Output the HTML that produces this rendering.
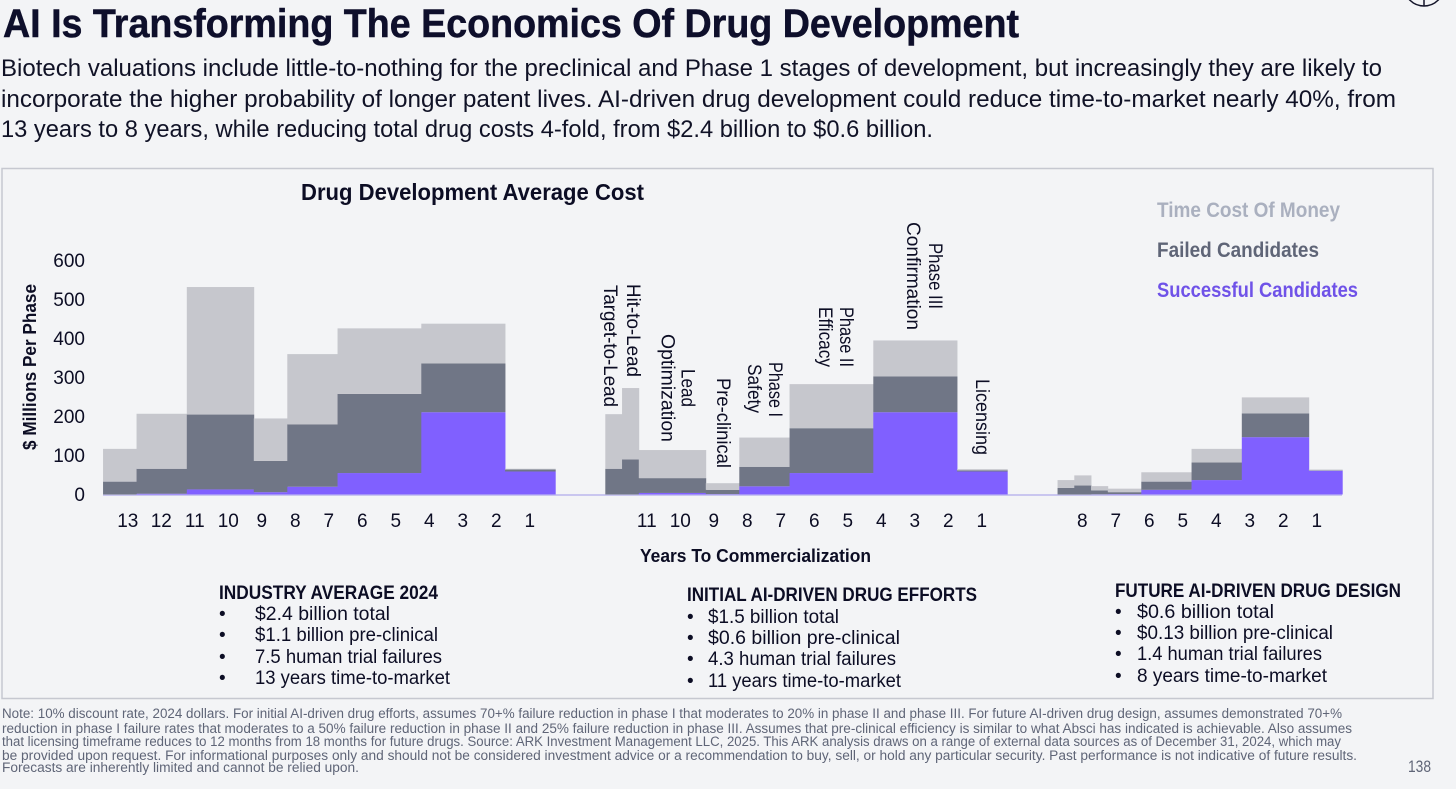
<!DOCTYPE html>
<html lang="en">
<head>
<meta charset="utf-8">
<title>AI Is Transforming The Economics Of Drug Development</title>
<style>
html,body{margin:0;padding:0;background:#f3f4f6;width:1456px;height:789px;overflow:hidden}
svg{display:block;font-family:"Liberation Sans",sans-serif}
.d{font-size:24px;fill:#101226}
.b{font-size:19px;fill:#0c0d24}
.bh{font-size:19px;font-weight:bold;fill:#0c0d24}
.n{font-size:13.5px;fill:#5f6577}
.r{font-size:19px;fill:#0c0d24}
.t{font-size:19px;fill:#0c0d24}
</style>
</head>
<body>
<svg id="s" width="1456" height="789" viewBox="0 0 1456 789" xmlns="http://www.w3.org/2000/svg">
<rect x="0" y="0" width="1456" height="789" fill="#f3f4f6"/>
<g fill="none" stroke="#14152a" stroke-width="1.5">
<circle cx="1424" cy="-14" r="20"/>
<line x1="1424" y1="0" x2="1424" y2="6"/>
</g>
<text x="3" y="37" font-size="40" font-weight="bold" fill="#0e0f2b" stroke="#0e0f2b" stroke-width="0.5" textLength="1016" lengthAdjust="spacingAndGlyphs">AI Is Transforming The Economics Of Drug Development</text>
<g>
<text class="d" x="1" y="76" textLength="1381" lengthAdjust="spacingAndGlyphs">Biotech valuations include little-to-nothing for the preclinical and Phase 1 stages of development, but increasingly they are likely to</text>
<text class="d" x="1" y="107" textLength="1395" lengthAdjust="spacingAndGlyphs">incorporate the higher probability of longer patent lives. AI-driven drug development could reduce time-to-market nearly 40%, from</text>
<text class="d" x="1" y="137" textLength="932" lengthAdjust="spacingAndGlyphs">13 years to 8 years, while reducing total drug costs 4-fold, from $2.4 billion to $0.6 billion.</text>
</g>
<rect x="2" y="168.5" width="1431" height="530" fill="#f3f4f6" stroke="#c6c8d0" stroke-width="1.5"/>
<text x="301" y="200" font-size="23" font-weight="bold" fill="#0c0d24" textLength="343" lengthAdjust="spacingAndGlyphs">Drug Development Average Cost</text>
<g font-size="21" font-weight="bold">
<text x="1157" y="217" fill="#aab0bf" textLength="183" lengthAdjust="spacingAndGlyphs">Time Cost Of Money</text>
<text x="1157" y="257" fill="#5f6577" textLength="162" lengthAdjust="spacingAndGlyphs">Failed Candidates</text>
<text x="1157" y="297" fill="#6f52e8" textLength="201" lengthAdjust="spacingAndGlyphs">Successful Candidates</text>
</g>
<text transform="translate(36,450) rotate(-90)" font-size="18" font-weight="bold" fill="#0c0d24" textLength="166" lengthAdjust="spacingAndGlyphs">$ Millions Per Phase</text>
<text x="640" y="562" font-size="18" font-weight="bold" fill="#0c0d24" textLength="231" lengthAdjust="spacingAndGlyphs">Years To Commercialization</text>
<g id="yticks"></g>
<line x1="103" y1="495" x2="1342" y2="495" stroke="#c9c6ef" stroke-width="2"/>
<g id="bars"></g>
<g id="xticks"></g>
<g>
<text class="r" transform="translate(604,285) rotate(90)" textLength="122" lengthAdjust="spacingAndGlyphs">Target-to-Lead</text>
<text class="r" transform="translate(627,284) rotate(90)" textLength="93" lengthAdjust="spacingAndGlyphs">Hit-to-Lead</text>
<text class="r" transform="translate(681.5,369) rotate(90)" textLength="38" lengthAdjust="spacingAndGlyphs">Lead</text>
<text class="r" transform="translate(661.5,334) rotate(90)" textLength="108" lengthAdjust="spacingAndGlyphs">Optimization</text>
<text class="r" transform="translate(717,378) rotate(90)" textLength="90" lengthAdjust="spacingAndGlyphs">Pre-clinical</text>
<text class="r" transform="translate(769,362) rotate(90)" textLength="55" lengthAdjust="spacingAndGlyphs">Phase I</text>
<text class="r" transform="translate(748,364) rotate(90)" textLength="49" lengthAdjust="spacingAndGlyphs">Safety</text>
<text class="r" transform="translate(840,307) rotate(90)" textLength="60" lengthAdjust="spacingAndGlyphs">Phase II</text>
<text class="r" transform="translate(819,307) rotate(90)" textLength="60" lengthAdjust="spacingAndGlyphs">Efficacy</text>
<text class="r" transform="translate(929,243) rotate(90)" textLength="66" lengthAdjust="spacingAndGlyphs">Phase III</text>
<text class="r" transform="translate(907,222) rotate(90)" textLength="108" lengthAdjust="spacingAndGlyphs">Confirmation</text>
<text class="r" transform="translate(976,379) rotate(90)" textLength="76" lengthAdjust="spacingAndGlyphs">Licensing</text>
</g>
<g>
<text class="bh" x="219" y="599" textLength="219" lengthAdjust="spacingAndGlyphs">INDUSTRY AVERAGE 2024</text>
<text class="b" x="219" y="620">•</text><text class="b" x="255" y="620" textLength="135" lengthAdjust="spacingAndGlyphs">$2.4 billion total</text>
<text class="b" x="219" y="641">•</text><text class="b" x="255" y="641" textLength="183" lengthAdjust="spacingAndGlyphs">$1.1 billion pre-clinical</text>
<text class="b" x="219" y="663">•</text><text class="b" x="255" y="663" textLength="187" lengthAdjust="spacingAndGlyphs">7.5 human trial failures</text>
<text class="b" x="219" y="684">•</text><text class="b" x="255" y="684" textLength="195" lengthAdjust="spacingAndGlyphs">13 years time-to-market</text>
</g>
<g>
<text class="bh" x="687" y="601" textLength="290" lengthAdjust="spacingAndGlyphs">INITIAL AI-DRIVEN DRUG EFFORTS</text>
<text class="b" x="687" y="623">•</text><text class="b" x="708" y="623" textLength="131" lengthAdjust="spacingAndGlyphs">$1.5 billion total</text>
<text class="b" x="687" y="644">•</text><text class="b" x="708" y="644" textLength="192" lengthAdjust="spacingAndGlyphs">$0.6 billion pre-clinical</text>
<text class="b" x="687" y="665">•</text><text class="b" x="708" y="665" textLength="188" lengthAdjust="spacingAndGlyphs">4.3 human trial failures</text>
<text class="b" x="687" y="687">•</text><text class="b" x="708" y="687" textLength="193" lengthAdjust="spacingAndGlyphs">11 years time-to-market</text>
</g>
<g>
<text class="bh" x="1115" y="597" textLength="286" lengthAdjust="spacingAndGlyphs">FUTURE AI-DRIVEN DRUG DESIGN</text>
<text class="b" x="1115" y="618">•</text><text class="b" x="1137" y="618" textLength="137" lengthAdjust="spacingAndGlyphs">$0.6 billion total</text>
<text class="b" x="1115" y="639">•</text><text class="b" x="1137" y="639" textLength="196" lengthAdjust="spacingAndGlyphs">$0.13 billion pre-clinical</text>
<text class="b" x="1115" y="660">•</text><text class="b" x="1137" y="660" textLength="185" lengthAdjust="spacingAndGlyphs">1.4 human trial failures</text>
<text class="b" x="1115" y="682">•</text><text class="b" x="1137" y="682" textLength="190" lengthAdjust="spacingAndGlyphs">8 years time-to-market</text>
</g>
<g>
<text class="n" x="2" y="718" textLength="1340" lengthAdjust="spacingAndGlyphs">Note: 10% discount rate, 2024 dollars. For initial AI-driven drug efforts, assumes 70+% failure reduction in phase I that moderates to 20% in phase II and phase III. For future AI-driven drug design, assumes demonstrated 70+%</text>
<text class="n" x="2" y="733" textLength="1350" lengthAdjust="spacingAndGlyphs">reduction in phase I failure rates that moderates to a 50% failure reduction in phase II and 25% failure reduction in phase III. Assumes that pre-clinical efficiency is similar to what Absci has indicated is achievable. Also assumes</text>
<text class="n" x="2" y="746" textLength="1339" lengthAdjust="spacingAndGlyphs">that licensing timeframe reduces to 12 months from 18 months for future drugs. Source: ARK Investment Management LLC, 2025. This ARK analysis draws on a range of external data sources as of December 31, 2024, which may</text>
<text class="n" x="2" y="760" textLength="1355" lengthAdjust="spacingAndGlyphs">be provided upon request. For informational purposes only and should not be considered investment advice or a recommendation to buy, sell, or hold any particular security. Past performance is not indicative of future results.</text>
<text class="n" x="2" y="772" textLength="357" lengthAdjust="spacingAndGlyphs">Forecasts are inherently limited and cannot be relied upon.</text>
</g>
<text x="1408" y="772" font-size="17" fill="#5f6577" textLength="23" lengthAdjust="spacingAndGlyphs">138</text>
</svg>
<script>
// Y axis
const yTickValues = [0, 100, 200, 300, 400, 500, 600];

// Industry average 2024
const industryYears = [1, 1.5, 2, 1, 1.5, 2.5, 2.5, 1.5];
const industrySuccess = [0, 2, 13, 6, 20, 55, 211, 59];
const industryFailed = [33, 64, 192, 80, 160, 203, 125, 5];
const industryTime = [84, 141, 327, 109, 180, 168, 102, 2];
const industryTicks = [13, 12, 11, 10, 9, 8, 7, 6, 5, 4, 3, 2, 1];

// Initial AI-driven drug efforts
const initialYears = [0.5, 0.5, 2, 1, 1.5, 2.5, 2.5, 1.5];
const initialSuccess = [0, 0, 4, 1, 21, 55, 211, 59];
const initialFailed = [66, 90, 38, 11, 50, 115, 92, 3];
const initialTime = [140, 183, 72, 17, 75, 113, 92, 3];
const initialTicks = [11, 10, 9, 8, 7, 6, 5, 4, 3, 2, 1];

// Future AI-driven drug design
const futureYears = [0.5, 0.5, 0.5, 1, 1.5, 1.5, 2, 1];
const futureSuccess = [0, 0, 0.5, 1, 12, 37, 147, 61];
const futureFailed = [17, 23, 10, 5, 21, 45, 61, 1];
const futureTime = [20, 26, 11, 9, 24, 35, 41, 2];
const futureTicks = [8, 7, 6, 5, 4, 3, 2, 1];

const NS = 'http://www.w3.org/2000/svg';
const PX_PER_YEAR = 33.5;
function yScale(v) { return 494.5 - v * 0.39; }
function xScale(endX, yearsLeft) { return endX - yearsLeft * PX_PER_YEAR; }

const yGroup = document.getElementById('yticks');
yTickValues.forEach(function (v) {
  const t = document.createElementNS(NS, 'text');
  t.setAttribute('class', 't');
  t.setAttribute('x', 85);
  t.setAttribute('y', yScale(v) + 6.5);
  t.setAttribute('text-anchor', 'end');
  
  
  t.textContent = v;
  yGroup.appendChild(t);
});

function drawChart(name, endX, years, success, failed, time, ticks) {
  const barGroup = document.getElementById('bars');
  const g = document.createElementNS(NS, 'g');
  
  
  barGroup.appendChild(g);
  let left = years.reduce(function (a, b) { return a + b; }, 0);
  years.forEach(function (dur, i) {
    const x0 = xScale(endX, left);
    const x1 = xScale(endX, left - dur);
    left -= dur;
    const a = success[i], b = a + failed[i], c = b + time[i];
    const segs = [[0, a, '#8060ff', 'success'], [a, b, '#707686', 'failed'], [b, c, '#c6c7cd', 'time-cost']];
    segs.forEach(function (s) {
      const r = document.createElementNS(NS, 'rect');
      r.setAttribute('x', x0);
      r.setAttribute('width', x1 - x0 + 0.4);
      r.setAttribute('y', yScale(s[1]));
      r.setAttribute('height', yScale(s[0]) - yScale(s[1]));
      r.setAttribute('fill', s[2]);
      
      
      g.appendChild(r);
    });
  });
  const xGroup = document.getElementById('xticks');
  ticks.forEach(function (n) {
    const t = document.createElementNS(NS, 'text');
    t.setAttribute('class', 't');
    t.setAttribute('x', xScale(endX + 8, n));
    t.setAttribute('y', 527);
    t.setAttribute('text-anchor', 'middle');
    
    
    t.textContent = n;
    xGroup.appendChild(t);
  });
}

drawChart('industry-average', 555.3, industryYears, industrySuccess, industryFailed, industryTime, industryTicks);
drawChart('initial-ai', 1007.3, initialYears, initialSuccess, initialFailed, initialTime, initialTicks);
drawChart('future-ai', 1342.3, futureYears, futureSuccess, futureFailed, futureTime, futureTicks);
</script>
</body>
</html>
